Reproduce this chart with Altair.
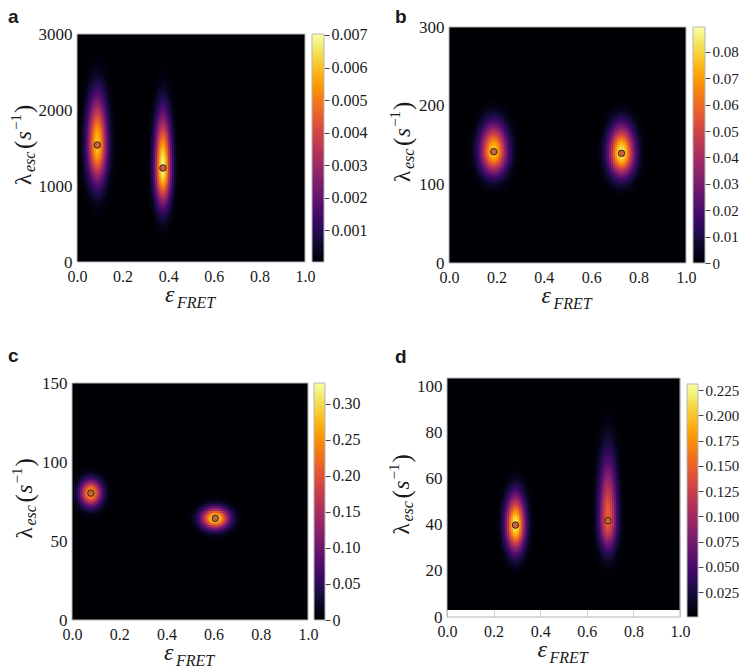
import numpy as np
import pandas as pd
import altair as alt

SERIF = "Liberation Serif, Times New Roman, serif"
SANS = "Liberation Sans, Arial, sans-serif"
X_TICKS = [0.0, 0.2, 0.4, 0.6, 0.8, 1.0]

# ---------------- panel a ----------------
A_YMAX = 3000.0
A_YTICKS = [0, 1000, 2000, 3000]
A_CB_RANGE = [0.00002, 0.00703]
A_CB_TICKS = [0.001, 0.002, 0.003, 0.004, 0.005, 0.006, 0.007]
A_EPS = [0.089, 0.377]
A_LAM = [1539.0, 1237.0]
A_PEAK = [0.0061, 0.0069]
A_SIG_EPS = [0.029, 0.024]
A_SIG_LAM_LO = [330.0, 320.0]
A_SIG_LAM_HI = [420.0, 460.0]

# ---------------- panel b ----------------
B_YMAX = 300.0
B_YTICKS = [0, 100, 200, 300]
B_CB_RANGE = [0.0, 0.0894]
B_CB_TICKS = [0.0, 0.01, 0.02, 0.03, 0.04, 0.05, 0.06, 0.07, 0.08]
B_EPS = [0.189, 0.728]
B_LAM = [141.5, 139.4]
B_PEAK = [0.079, 0.086]
B_SIG_EPS = [0.038, 0.036]
B_SIG_LAM_LO = [19.0, 19.0]
B_SIG_LAM_HI = [23.0, 23.0]

# ---------------- panel c ----------------
C_YMAX = 150.0
C_YTICKS = [0, 50, 100, 150]
C_CB_RANGE = [0.0, 0.329]
C_CB_TICKS = [0.0, 0.05, 0.10, 0.15, 0.20, 0.25, 0.30]
C_EPS = [0.080, 0.607]
C_LAM = [80.3, 64.3]
C_PEAK = [0.27, 0.315]
C_SIG_EPS = [0.031, 0.040]
C_SIG_LAM_LO = [5.6, 4.5]
C_SIG_LAM_HI = [5.6, 4.5]

# ---------------- panel d ----------------
D_YMAX = 103.5
D_MAP_YMIN = 3.0
D_YTICKS = [0, 20, 40, 60, 80, 100]
D_CB_RANGE = [0.0003, 0.231]
D_CB_TICKS = [0.025, 0.05, 0.075, 0.1, 0.125, 0.15, 0.175, 0.2, 0.225]
D_EPS = [0.294, 0.691]
D_LAM = [39.8, 41.7]
D_PEAK = [0.222, 0.152]
D_SIG_EPS = [0.028, 0.026]
D_SIG_LAM_LO = [7.5, 8.4]
D_SIG_LAM_HI = [8.6, 18.0]

NX, NY = 120, 100
FRAME = "#b5b5b5"


def density_cells(eps, lam, peak, seps, slo, shi, ymin, ymax, vmax):
    dx = 1.0 / NX
    dy = (ymax - ymin) / NY
    xs = (np.arange(NX) + 0.5) * dx
    ys = ymin + (np.arange(NY) + 0.5) * dy
    gx, gy = np.meshgrid(xs, ys, indexing="ij")
    v = np.zeros_like(gx)
    for e, l, p, s, lo, hi in zip(eps, lam, peak, seps, slo, shi):
        sy = np.where(gy >= l, hi, lo)
        v += p * np.exp(-0.5 * ((gx - e) / s) ** 2 - 0.5 * ((gy - l) / sy) ** 2)
    gx, gy, v = gx.ravel(), gy.ravel(), v.ravel()
    keep = v > 0.012 * vmax
    return pd.DataFrame({
        "x0": gx[keep] - dx / 2, "x1": np.minimum(gx[keep] + dx * 0.8, 1.0),
        "y0": gy[keep] - dy / 2, "y1": np.minimum(gy[keep] + dy * 0.8, ymax),
        "v": v[keep],
    })


def txt(s, X, Y, size, italic=False, angle=0, dx=0, dy=0, font=SERIF, weight="normal"):
    return alt.Chart(pd.DataFrame({"k": [0]})).mark_text(
        text=s, font=font, fontSize=size, fontStyle="italic" if italic else "normal",
        fontWeight=weight, angle=angle, dx=dx, dy=dy, align="left",
        baseline="alphabetic", color="#1a1a1a",
    ).encode(x=alt.value(X), y=alt.value(Y))


YT = [("λ", 23, False, 0, 0), ("esc", 16, True, 13, 4), ("(", 25, False, 36, 1),
      ("s", 23, True, 45, 0), ("−1", 15, False, 55, -10), (")", 25, False, 72, 1)]
XT = [("ε", 24, True, 0, 0), ("FRET", 16, True, 12, 6)]


def panel(W, H, off, ymax, map_ymin, yticks, cb_range, eps, lam, peak, seps, slo, shi,
          letter, lx, ly, ybx, grid=False):
    lo, hi = cb_range
    xs = alt.Scale(domain=[0, 1], nice=False, zero=False)
    ys = alt.Scale(domain=[0, ymax], range=[H + off, off], nice=False, zero=False)
    xaxis = alt.Axis(values=X_TICKS, format=".1f", title=None, ticks=False, domain=False,
                     grid=grid, gridColor="#cfcfcf", gridWidth=1, zindex=0,
                     labelPadding=6, labelFlush=False, labelOverlap=False, labelFontSize=16)
    yaxis = alt.Axis(values=yticks, format="d", title=None, ticks=False, domain=False,
                     grid=False, labelPadding=5, labelFlush=False, labelOverlap=False,
                     labelFontSize=17)
    X = alt.X("x0:Q", scale=xs, axis=xaxis)
    Y = alt.Y("y0:Q", scale=ys, axis=yaxis)
    bg = alt.Chart(pd.DataFrame({"x0": [0.0], "x1": [1.0], "y0": [map_ymin], "y1": [ymax]})).mark_rect(
        color="#000004").encode(x=X, x2="x1", y=Y, y2="y1")
    cells = density_cells(eps, lam, peak, seps, slo, shi, map_ymin, ymax, hi)
    heat = alt.Chart(cells).mark_rect().encode(
        x=X, x2="x1", y=Y, y2="y1",
        color=alt.Color("v:Q", scale=alt.Scale(scheme="inferno", domain=[lo, hi], clamp=True), legend=None))
    frame = alt.Chart(pd.DataFrame({"x0": [0.0], "x1": [1.0], "y0": [0.0], "y1": [ymax]})).mark_rect(
        filled=False, stroke=FRAME, strokeWidth=1).encode(x=X, x2="x1", y=Y, y2="y1")
    pts = alt.Chart(pd.DataFrame({"x0": eps, "y0": lam})).mark_circle(
        size=42, color="#c4633c", opacity=1, stroke="#2b1a10", strokeWidth=0.9).encode(x=X, y=Y)
    layers = [bg, heat, frame, pts]
    ty = off + H / 2 + 40 - 3
    for s, size, it, dx, dy in YT:
        layers.append(txt(s, ybx, ty, size, it, angle=270, dx=dx, dy=dy))
    tx = W / 2 - 26
    for s, size, it, dx, dy in XT:
        layers.append(txt(s, tx, off + H + 40, size, it, dx=dx, dy=dy))
    layers.append(txt(letter, lx, off + ly, 19, font=SANS, weight="bold"))
    return alt.layer(*layers).properties(width=W, height=H + off)


def colorbar(W, H, off, rng, ticks, fmt, fs):
    lo, hi = rng
    n = 160
    step = (hi - lo) / n
    c0 = lo + step * np.arange(n)
    df = pd.DataFrame({"c0": c0, "c1": np.minimum(c0 + step * 1.6, hi), "cm": c0 + step / 2})
    expr = f"datum.value == 0 ? '0' : format(datum.value, '{fmt}')"
    Y = alt.Y("c0:Q", scale=alt.Scale(domain=[lo, hi], range=[H + off, off], nice=False, zero=False),
              axis=alt.Axis(orient="right", values=ticks, labelExpr=expr, title=None,
                            tickSize=5, tickColor="#444", tickWidth=1, domain=False,
                            labelPadding=2, labelFontSize=fs, labelFlush=False,
                            labelOverlap=False, grid=False))
    bar = alt.Chart(df).mark_rect().encode(
        x=alt.value(0), x2=alt.value(W), y=Y, y2="c1",
        color=alt.Color("cm:Q", scale=alt.Scale(scheme="inferno", domain=[lo, hi]), legend=None))
    frame = alt.Chart(pd.DataFrame({"c0": [lo], "c1": [hi]})).mark_rect(
        filled=False, stroke=FRAME, strokeWidth=1).encode(
        x=alt.value(0), x2=alt.value(W), y=Y, y2="c1")
    return alt.layer(bar, frame).properties(width=W, height=H + off)


def sp(w, h):
    return alt.Chart(pd.DataFrame({"s": [0]})).mark_point(opacity=0, size=1).encode(
        x=alt.X("s:Q", axis=None), y=alt.Y("s:Q", axis=None)
    ).properties(width=w, height=h)


def Hc(*c):
    return alt.hconcat(*c, spacing=0, bounds="flush").resolve_scale(
        x="independent", y="independent", color="independent")


pa = panel(228, 228, 7, A_YMAX, 0.0, A_YTICKS, A_CB_RANGE, A_EPS, A_LAM, A_PEAK, A_SIG_EPS,
           A_SIG_LAM_LO, A_SIG_LAM_HI, "a", -69, -11, -46)
pb = panel(237, 236, 0, B_YMAX, 0.0, B_YTICKS, B_CB_RANGE, B_EPS, B_LAM, B_PEAK, B_SIG_EPS,
           B_SIG_LAM_LO, B_SIG_LAM_HI, "b", -54, -4, -39)
pc = panel(236, 237, 5, C_YMAX, 0.0, C_YTICKS, C_CB_RANGE, C_EPS, C_LAM, C_PEAK, C_SIG_EPS,
           C_SIG_LAM_LO, C_SIG_LAM_HI, "c", -64, -21, -40)
pd_ = panel(233, 239, 0, D_YMAX, D_MAP_YMIN, D_YTICKS, D_CB_RANGE, D_EPS, D_LAM, D_PEAK, D_SIG_EPS,
            D_SIG_LAM_LO, D_SIG_LAM_HI, "d", -52, -15, -38, grid=True)

ca = colorbar(12, 228, 7, A_CB_RANGE, A_CB_TICKS, ".3f", 16)
cb = colorbar(12, 236, 0, B_CB_RANGE, B_CB_TICKS, ".2f", 15)
cc = colorbar(11, 237, 5, C_CB_RANGE, C_CB_TICKS, ".2f", 16)
cd = colorbar(11, 233, 6, D_CB_RANGE, D_CB_TICKS, ".3f", 15)

row1 = Hc(sp(5, 1), pa, sp(7, 1), ca, sp(125, 1), pb, sp(7, 1), cb)
row2 = Hc(pc, sp(6, 1), cc, sp(122, 1), pd_, sp(7, 1), cd)

chart = alt.vconcat(row1, row2, spacing=35, bounds="full").resolve_scale(
    x="independent", y="independent", color="independent"
).properties(
    padding={"left": 0, "top": 0, "right": 0, "bottom": 0}
).configure_view(strokeWidth=0).configure_axis(
    labelFont=SERIF, labelFontSize=16, labelColor="#1a1a1a"
)

chart.save("out.html", embed_options={"renderer": "svg", "actions": False})
